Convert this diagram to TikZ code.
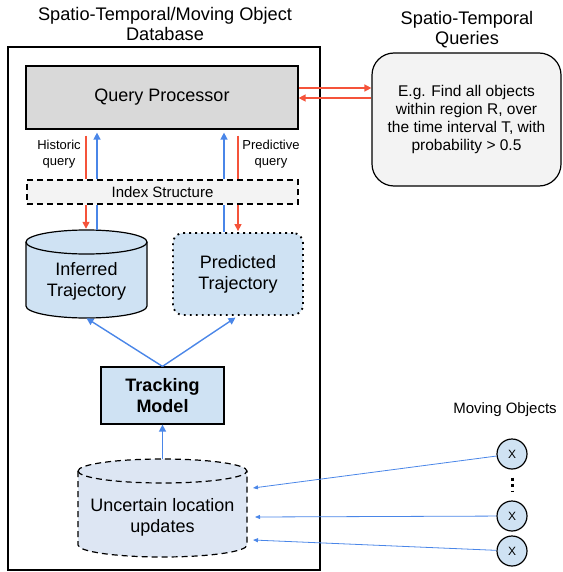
\documentclass[tikz,border=0pt]{standalone}
\usepackage{fontspec}
\setmainfont{Liberation Sans}
\usetikzlibrary{arrows.meta}

\definecolor{qpgray}{HTML}{D9D9D9}
\definecolor{boxgray}{HTML}{F3F3F3}
\definecolor{trajblue}{HTML}{CFE2F3}
\definecolor{updblue}{HTML}{DDE6F3}
\definecolor{flowblue}{HTML}{4A86E8}
\definecolor{flowred}{HTML}{F5533A}

\newcommand{\fsz}[2]{\fontsize{#1}{#2}\selectfont}

\tikzset{
  box/.style      = {draw, line width=1.2pt, inner sep=0pt, align=center},
  slot/.style     = {inner sep=0pt},
  title/.style    = {align=center, font=\fsz{18.2}{20}},
  lbl/.style      = {align=center, font=\fsz{18}{21}},
  blueflow/.style = {draw=flowblue, line width=1.4pt,
                     -{Triangle[length=7pt,width=7pt]}},
  redflow/.style  = {draw=flowred, line width=1.4pt,
                     -{Triangle[length=7pt,width=7pt]}},
  blueline/.style = {draw=flowblue, line width=1.4pt},
  redline/.style  = {draw=flowred, line width=1.4pt},
  thinflow/.style = {draw=flowblue, line width=0.8pt,
                     -{Triangle[length=5pt,width=4pt]}},
  movobj/.style   = {circle, draw, line width=1.2pt, fill=trajblue,
                     minimum size=30pt, inner sep=0pt, font=\fsz{12}{14}}
}

\begin{document}
\begin{tikzpicture}[x=1pt, y=-1pt]
	\useasboundingbox (0,0) rectangle (562,572);
	\def \ry{12} % depth of a drum lid

	% Database frame and titles
	\node[draw, line width=1.2pt, minimum width=312pt, minimum height=523pt] (db) at (164,308.5) {};
	\node[title] (dbtitle) at (165,24) {Spatio-Temporal/Moving Object\\Database};
	\node[title] (qtitle) at (467,30) {Spatio-Temporal\\Queries};

	% Query processor and index
	\node[box, fill=qpgray, minimum width=272pt, minimum height=63pt, font=\fsz{18}{21}] (qp) at (162,97.5) {Query Processor};
	\node[box, fill=boxgray, dash pattern=on 6pt off 4pt, minimum width=271pt, minimum height=24pt, font=\fsz{15}{18}] (idx) at (162.5,192) {Index Structure};
	\node[align=center, font=\fsz{13}{16}] (histlbl) at (59,154) {Historic\\query};
	\node[align=center, font=\fsz{13}{16}] (predlbl) at (271,154) {Predictive\\query};

	% Inferred trajectory (drum)
	\filldraw[fill=trajblue, line width=1.2pt] (26,230+\ry) -- (26,318-\ry)
		arc[start angle=180, end angle=0, x radius=60.5, y radius=\ry] -- (147,230+\ry)
		arc[start angle=0, end angle=-180, x radius=60.5, y radius=\ry] -- cycle;
	\draw[line width=1.2pt] (26,230+\ry) arc[start angle=180, end angle=0, x radius=60.5, y radius=\ry];
	\node[slot, minimum width=121pt, minimum height=88pt] (inf) at (86.5,274) {};
	\node[lbl] (inflbl) at (86.5,281) {Inferred\\Trajectory};

	% Predicted trajectory
	\node[box, rounded corners=10pt, fill=trajblue, line width=1.8pt, dash pattern=on 1.8pt off 4.2pt, minimum width=130pt, minimum height=82pt, font=\fsz{18}{21}] (pred) at (238,274) {Predicted\\Trajectory};

	% Tracking model
	\node[box, fill=trajblue, minimum width=123pt, minimum height=57pt, font=\fsz{18}{21}\bfseries] (trk) at (162.5,395.5) {Tracking\\Model};

	% Uncertain updates (dashed drum)
	\filldraw[fill=updblue, line width=1.2pt, dash pattern=on 6pt off 4pt] (78,459+\ry) -- (78,557-\ry)
		arc[start angle=180, end angle=0, x radius=84.5, y radius=\ry] -- (247,459+\ry)
		arc[start angle=0, end angle=-180, x radius=84.5, y radius=\ry] -- cycle;
	\draw[line width=1.2pt, dash pattern=on 6pt off 4pt] (78,459+\ry) arc[start angle=180, end angle=0, x radius=84.5, y radius=\ry];
	\node[slot, minimum width=169pt, minimum height=98pt] (upd) at (162.5,508) {};
	\node[lbl] (updlbl) at (162.5,517) {Uncertain location\\updates};

	% Query box
	\node[box, rounded corners=22pt, fill=boxgray, minimum width=189pt, minimum height=133pt, font=\fsz{15.5}{18}] (qry) at (466.5,119.5) {E.g. Find all objects\\within region R, over\\the time interval T, with\\probability > 0.5};

	% Moving objects
	\node[font=\fsz{15}{18}] (movlbl) at (505,410) {Moving Objects};
	\node[movobj] (obj1) at (512,454) {X};
	\node[movobj] (obj2) at (512,516) {X};
	\node[movobj] (obj3) at (512,551) {X};
	\draw[line width=3pt, dash pattern=on 3pt off 3.5pt, shorten <=8pt, shorten >=9pt] (obj1.south) -- (obj2.north);

	% Queries in, answers out
	\coordinate (qout) at ([yshift=9.5pt]qp.east);
	\coordinate (qin) at ([yshift=-0.5pt]qp.east);
	\draw[redflow] (qout) -- (qout -| qry.west);
	\draw[redflow] (qin -| qry.west) -- (qin);

	% Lanes through the index
	\coordinate (histred) at (86,0);
	\coordinate (histblue) at (97,0);
	\coordinate (predblue) at (224,0);
	\coordinate (predred) at (238,0);
	\draw[redline, shorten <=6pt] (histred |- qp.south) -- (histred |- idx.north);
	\draw[blueflow, shorten >=3pt] (histblue |- idx.north) -- (histblue |- qp.south);
	\draw[blueflow, shorten >=3pt] (predblue |- idx.north) -- (predblue |- qp.south);
	\draw[redline, shorten <=6pt] (predred |- qp.south) -- (predred |- idx.north);
	\draw[redflow, shorten >=1pt] (histred |- idx.south) -- (histred |- inf.north);
	\draw[blueline] (histblue |- inf.north) -- (histblue |- idx.south);
	\draw[blueline] (predblue |- pred.north) -- (predblue |- idx.south);
	\draw[redflow, shorten >=1pt] (predred |- idx.south) -- (predred |- pred.north);

	% Tracking
	\draw[blueflow] (trk.north) -- (inf.south);
	\draw[blueflow, shorten >=3pt] (trk.north) -- (pred.south);
	\draw[blueflow] (upd.north) -- (trk.south);

	% Updates from the objects
	\coordinate (u1) at (253,488);
	\coordinate (u2) at (255,517);
	\coordinate (u3) at (253,540);
	\draw[thinflow] (obj1) -- (u1);
	\draw[thinflow] (obj2) -- (u2);
	\draw[thinflow] (obj3) -- (u3);
\end{tikzpicture}
\end{document}
